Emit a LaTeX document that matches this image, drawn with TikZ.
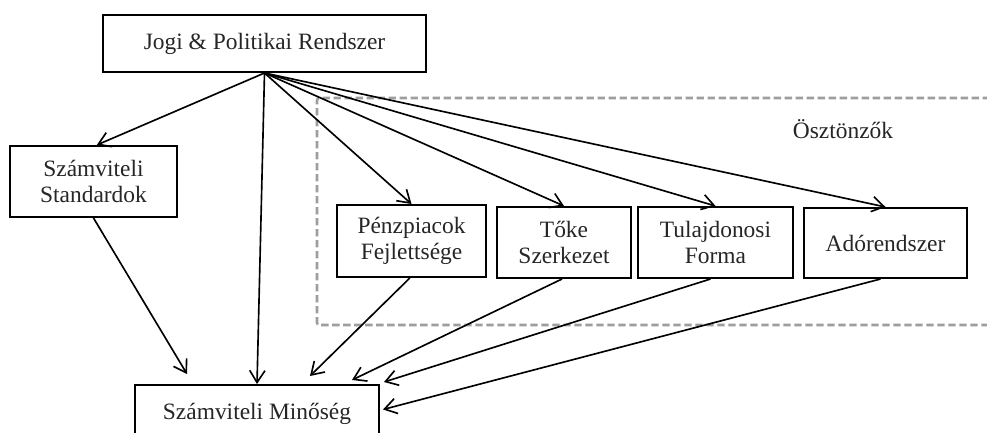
\documentclass[tikz,border=0pt]{standalone}
\usepackage{fontspec}
\setmainfont{Liberation Serif}
\usetikzlibrary{arrows.meta,calc}
\begin{document}
\begin{tikzpicture}[x=0.03cm,y=-0.03cm,
  box/.style={draw=black,line width=1.7pt,fill=white,inner sep=0pt,align=center,
    text=black!85,font=\fontsize{20}{22}\selectfont},
  conn/.style={line width=1.4pt,-{Straight Barb[length=0.36cm,width=0.46cm,line width=1.4pt]}},
  frame/.style={draw=black!38,line width=2.2pt,dash pattern=on 0.22cm off 0.11cm}]
\useasboundingbox (0,0) rectangle (987,433);
\clip (0,0) rectangle (987,433);
\fill[white] (0,0) rectangle (987,433);
% dashed incentive frame
\draw[frame,rounded corners=2pt] (990,98) -- (317,98) -- (317,325) -- (990,325);
\node[text=black!85,font=\fontsize{20}{22}\selectfont] (osz) at (843,129) {Ösztönzők};
% boxes
\node[box,minimum width=9.69cm,minimum height=1.71cm] (top) at (264.5,43.5) {Jogi \& Politikai Rendszer};
\node[box,minimum width=5.01cm,minimum height=2.13cm] (std) at (93.5,181.5) {Számviteli\\Standardok};
\node[box,minimum width=4.47cm,minimum height=2.16cm] (pen) at (411.5,241) {Pénzpiacok\\Fejlettsége};
\node[box,minimum width=4.02cm,minimum height=2.13cm] (toke) at (564,242.5) {Tőke\\Szerkezet};
\node[box,minimum width=4.65cm,minimum height=2.13cm] (tul) at (715.5,242.5) {Tulajdonosi\\Forma};
\node[box,minimum width=4.89cm,minimum height=2.1cm] (ado) at (885.5,243) {Adórendszer};
\node[box,minimum width=7.32cm,minimum height=1.65cm,text depth=0pt] (min) at (257,412.5) {\raisebox{0.08cm}{Számviteli Minőség}};
% arrows from top
\draw[conn] (top.south) -- ([xshift=0.1cm]std.north);
\draw[conn] (top.south) -- (min.north);
\draw[conn] (top.south) -- (pen.north);
\draw[conn] (top.south) -- (toke.north);
\draw[conn] (top.south) -- (tul.north);
\draw[conn] (top.south) -- (ado.north);
% arrows to quality
\draw[conn] (std.south) -- ($(min.north)+(-70,-10)$);
\draw[conn] ([xshift=-0.05cm]pen.south) -- ($(min.north)+(53,-8)$);
\draw[conn] ([xshift=-0.06cm]toke.south) -- ($(min.north)+(95,-4)$);
\draw[conn] ([xshift=-0.15cm]tul.south) -- ($(min.north east)+(4,-2)$);
\draw[conn] ([xshift=-0.15cm]ado.south) -- ($(min.east)+(3,-3)$);
\end{tikzpicture}
\end{document}
